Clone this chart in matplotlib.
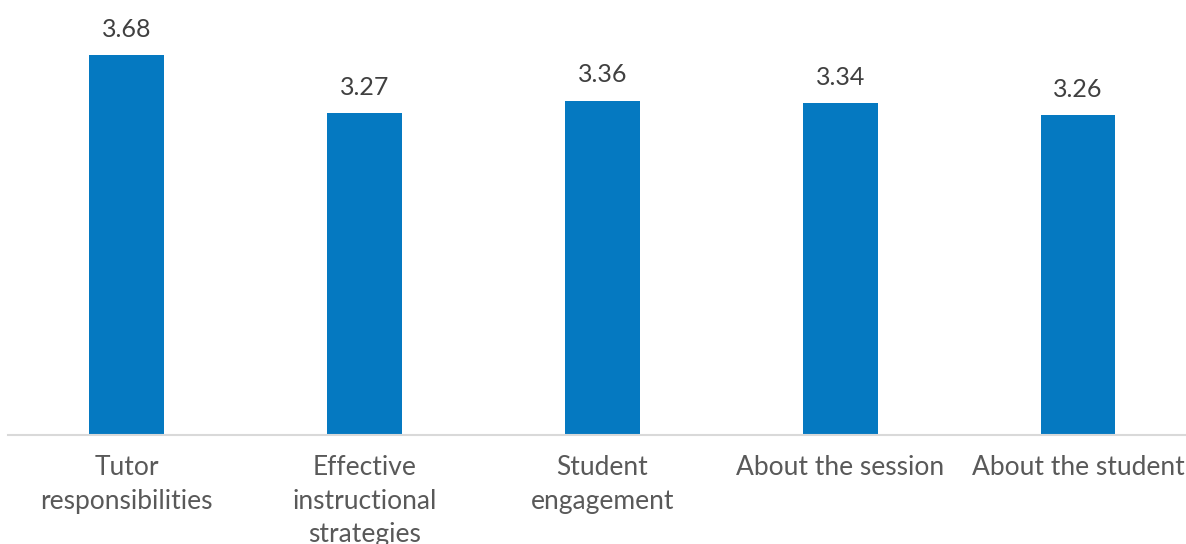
import matplotlib.pyplot as plt

plt.rcParams['font.family'] = ['Lato', 'DejaVu Sans']

categories = ["Tutor\nresponsibilities", "Effective\ninstructional\nstrategies",
              "Student\nengagement", "About the session", "About the student"]
scores = [3.68, 3.27, 3.36, 3.34, 3.26]

fig = plt.figure(figsize=(11.86, 5.44), dpi=100)
ax = fig.add_axes([7.75 / 1186, (544 - 434.5) / 544, 1189.25 / 1186, 424.5 / 544])

x = range(len(categories))
bars = ax.bar(x, scores, width=0.314, color="#0579c1", zorder=2)

for rect, v in zip(bars, scores):
    ax.text(rect.get_x() + rect.get_width() / 2, v + 0.1, f"{v:.2f}",
            ha="center", va="bottom", fontsize=18, color="#404040")

ax.set_ylim(1, 4)
ax.set_xlim(-0.5, len(categories) - 0.5)
ax.set_xticks(list(x))
ax.set_xticklabels(categories, fontsize=19, color="#595959", linespacing=1.42)
ax.tick_params(axis="x", length=0, pad=15)
ax.set_yticks([])

for side in ["top", "left", "right"]:
    ax.spines[side].set_visible(False)
ax.spines["bottom"].set_color("#d9d9d9")
ax.spines["bottom"].set_linewidth(1.5)

fig.savefig("out.png", dpi=100)
